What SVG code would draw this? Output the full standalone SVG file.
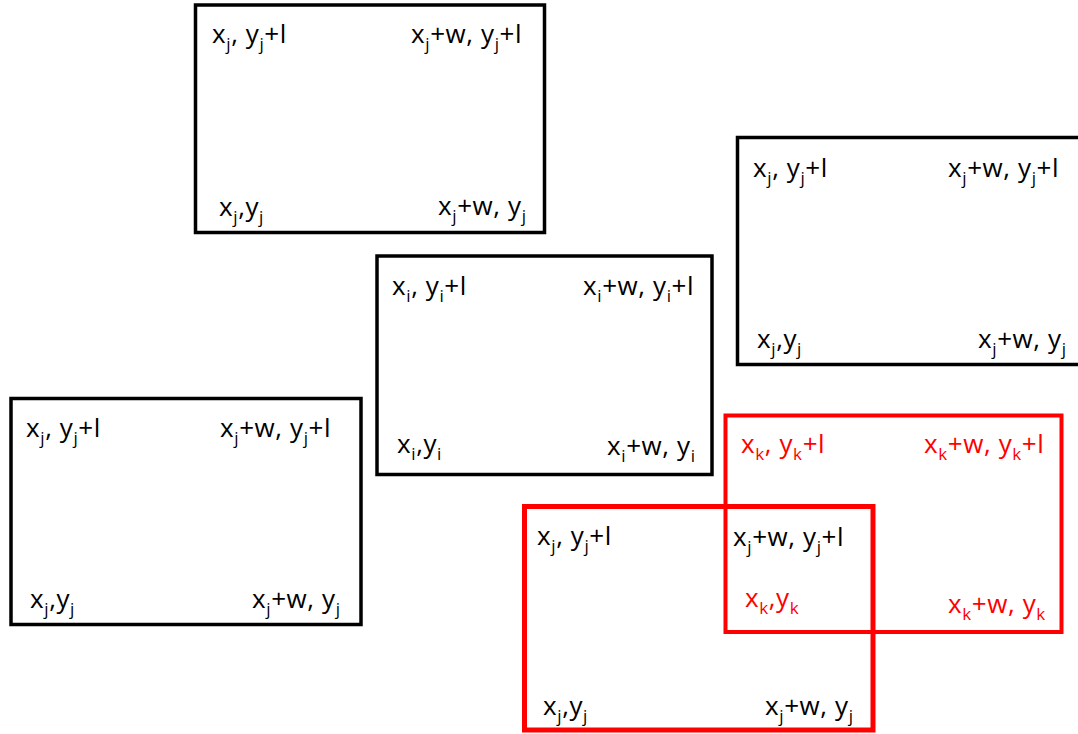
<svg xmlns="http://www.w3.org/2000/svg" width="1078" height="734" viewBox="0 0 1078 734">
<style>
.box{fill:none;stroke:#000;stroke-width:3.5}
.rk{fill:none;stroke:#ff0000;stroke-width:4}
.rj{fill:none;stroke:#ff0000;stroke-width:5}
text{font-family:"Open Sans","Liberation Sans",sans-serif;font-size:26px;letter-spacing:0.6px;fill:#000}
text.red{fill:#ff0000}
.s{font-size:17px}
</style>
<rect width="1078" height="734" fill="#fff"/>
<g id="box-top">
<rect class="box" x="195.5" y="5" width="349" height="227.5"/>
<text x="212" y="43">x<tspan class="s" dy="7">j</tspan><tspan dy="-7">, y</tspan><tspan class="s" dy="7">j</tspan><tspan dy="-7">+l</tspan></text>
<text x="411" y="43">x<tspan class="s" dy="7">j</tspan><tspan dy="-7">+w, y</tspan><tspan class="s" dy="7">j</tspan><tspan dy="-7">+l</tspan></text>
<text x="219" y="216">x<tspan class="s" dy="7">j</tspan><tspan dy="-7">,y</tspan><tspan class="s" dy="7">j</tspan></text>
<text x="438" y="215">x<tspan class="s" dy="7">j</tspan><tspan dy="-7">+w, y</tspan><tspan class="s" dy="7">j</tspan></text>
</g>
<g id="box-right">
<rect class="box" x="737.5" y="137.5" width="345" height="227"/>
<text x="753" y="177">x<tspan class="s" dy="7">j</tspan><tspan dy="-7">, y</tspan><tspan class="s" dy="7">j</tspan><tspan dy="-7">+l</tspan></text>
<text x="948" y="177">x<tspan class="s" dy="7">j</tspan><tspan dy="-7">+w, y</tspan><tspan class="s" dy="7">j</tspan><tspan dy="-7">+l</tspan></text>
<text x="757" y="348">x<tspan class="s" dy="7">j</tspan><tspan dy="-7">,y</tspan><tspan class="s" dy="7">j</tspan></text>
<text x="978" y="348">x<tspan class="s" dy="7">j</tspan><tspan dy="-7">+w, y</tspan><tspan class="s" dy="7">j</tspan></text>
</g>
<g id="box-i">
<rect class="box" x="377" y="256" width="335" height="218.5"/>
<text x="392" y="295">x<tspan class="s" dy="7">i</tspan><tspan dy="-7">, y</tspan><tspan class="s" dy="7">i</tspan><tspan dy="-7">+l</tspan></text>
<text x="583" y="295">x<tspan class="s" dy="7">i</tspan><tspan dy="-7">+w, y</tspan><tspan class="s" dy="7">i</tspan><tspan dy="-7">+l</tspan></text>
<text x="397" y="453">x<tspan class="s" dy="7">i</tspan><tspan dy="-7">,y</tspan><tspan class="s" dy="7">i</tspan></text>
<text x="607" y="455">x<tspan class="s" dy="7">i</tspan><tspan dy="-7">+w, y</tspan><tspan class="s" dy="7">i</tspan></text>
</g>
<g id="box-left">
<rect class="box" x="11" y="398.5" width="350" height="226"/>
<text x="26" y="437">x<tspan class="s" dy="7">j</tspan><tspan dy="-7">, y</tspan><tspan class="s" dy="7">j</tspan><tspan dy="-7">+l</tspan></text>
<text x="220" y="437">x<tspan class="s" dy="7">j</tspan><tspan dy="-7">+w, y</tspan><tspan class="s" dy="7">j</tspan><tspan dy="-7">+l</tspan></text>
<text x="30" y="608">x<tspan class="s" dy="7">j</tspan><tspan dy="-7">,y</tspan><tspan class="s" dy="7">j</tspan></text>
<text x="252" y="608">x<tspan class="s" dy="7">j</tspan><tspan dy="-7">+w, y</tspan><tspan class="s" dy="7">j</tspan></text>
</g>
<g id="box-k">
<rect class="rk" x="725.5" y="415.5" width="336" height="216.5"/>
<text class="red" x="741" y="453">x<tspan class="s" dy="7">k</tspan><tspan dy="-7">, y</tspan><tspan class="s" dy="7">k</tspan><tspan dy="-7">+l</tspan></text>
<text class="red" x="924" y="453">x<tspan class="s" dy="7">k</tspan><tspan dy="-7">+w, y</tspan><tspan class="s" dy="7">k</tspan><tspan dy="-7">+l</tspan></text>
<text class="red" x="745" y="607">x<tspan class="s" dy="7">k</tspan><tspan dy="-7">,y</tspan><tspan class="s" dy="7">k</tspan></text>
<text class="red" x="948" y="613">x<tspan class="s" dy="7">k</tspan><tspan dy="-7">+w, y</tspan><tspan class="s" dy="7">k</tspan></text>
</g>
<g id="box-j-red">
<rect class="rj" x="524.5" y="506.5" width="348.5" height="223.5"/>
<text x="537" y="545">x<tspan class="s" dy="7">j</tspan><tspan dy="-7">, y</tspan><tspan class="s" dy="7">j</tspan><tspan dy="-7">+l</tspan></text>
<text x="733" y="546">x<tspan class="s" dy="7">j</tspan><tspan dy="-7">+w, y</tspan><tspan class="s" dy="7">j</tspan><tspan dy="-7">+l</tspan></text>
<text x="543" y="715">x<tspan class="s" dy="7">j</tspan><tspan dy="-7">,y</tspan><tspan class="s" dy="7">j</tspan></text>
<text x="765" y="715">x<tspan class="s" dy="7">j</tspan><tspan dy="-7">+w, y</tspan><tspan class="s" dy="7">j</tspan></text>
</g>
<g id="connectors"/>
</svg>
